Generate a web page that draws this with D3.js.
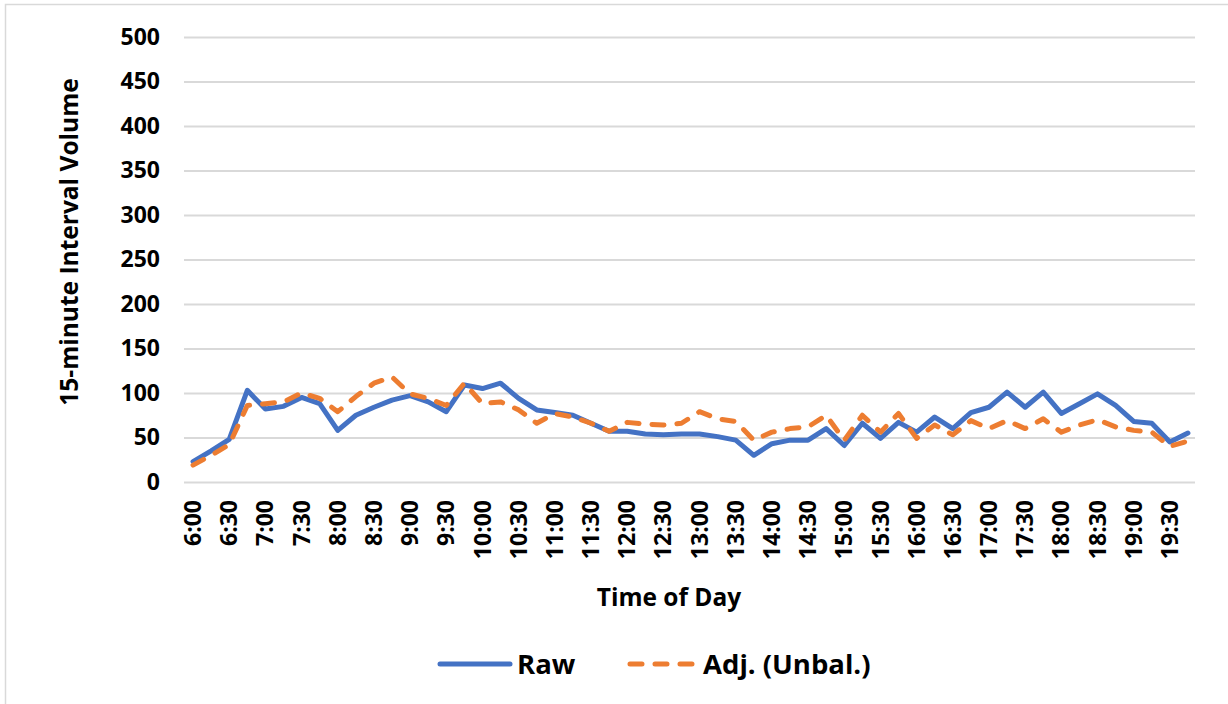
<!DOCTYPE html>
<html>
<head>
<meta charset="utf-8">
<script src="https://cdn.jsdelivr.net/npm/d3@7"></script>
<style>
  html, body { margin: 0; padding: 0; background: #fff; }
  svg { display: block; font-family: "Open Sans", "Liberation Sans", sans-serif; }
</style>
</head>
<body>
<svg id="chart" width="1228" height="704"></svg>
<script>
  // 15-minute intervals, 6:00 through 19:45.
  var times = [
    "6:00", "6:15", "6:30", "6:45", "7:00", "7:15", "7:30", "7:45",
    "8:00", "8:15", "8:30", "8:45", "9:00", "9:15", "9:30", "9:45",
    "10:00", "10:15", "10:30", "10:45", "11:00", "11:15", "11:30", "11:45",
    "12:00", "12:15", "12:30", "12:45", "13:00", "13:15", "13:30", "13:45",
    "14:00", "14:15", "14:30", "14:45", "15:00", "15:15", "15:30", "15:45",
    "16:00", "16:15", "16:30", "16:45", "17:00", "17:15", "17:30", "17:45",
    "18:00", "18:15", "18:30", "18:45", "19:00", "19:15", "19:30", "19:45"
  ];

  var rawValues = [
    23, 35, 48, 103, 82, 85, 95, 88,
    58, 75, 84, 92, 97, 90, 79, 109,
    105, 111, 94, 81, 78, 75, 66, 57,
    57, 54, 53, 54, 54, 51, 47, 30,
    43, 47, 47, 60, 41, 66, 49, 67,
    56, 73, 60, 78, 84, 101, 84, 101,
    77, 88, 99, 86, 68, 66, 45, 55
  ];

  var adjValues = [
    19, 30, 42, 86, 88, 90, 100, 94,
    79, 96, 111, 118, 99, 94, 86, 111,
    88, 90, 81, 66, 77, 73, 66, 57,
    67, 65, 64, 66, 79, 71, 68, 47,
    56, 60, 62, 75, 47, 75, 56, 77,
    49, 64, 53, 69, 60, 69, 60, 71,
    56, 64, 70, 62, 58, 56, 40, 46
  ];

  var yTicks = [0, 50, 100, 150, 200, 250, 300, 350, 400, 450, 500];

  var series = [
    { name: "Raw", values: rawValues, color: "#4472C4", dash: null },
    { name: "Adj. (Unbal.)", values: adjValues, color: "#ED7D31", dash: "12 13" }
  ];

  var svg = d3.select("#chart");
  var W = 1228, H = 704;
  var plot = { left: 184, right: 1197, top: 37, bottom: 482 };

  // Chart area border (only top/left edges are in frame).
  svg.append("rect")
    .attr("x", 5.5).attr("y", 4.5)
    .attr("width", W + 10).attr("height", H + 10)
    .attr("fill", "#fff")
    .attr("stroke", "#d9d9d9")
    .attr("stroke-width", 1.5);

  var x = d3.scaleBand().domain(times).range([plot.left, plot.right]);
  var y = d3.scaleLinear().domain([0, 500]).range([plot.bottom, plot.top]);
  function cx(t) { return x(t) + x.bandwidth() / 2; }

  // Gridlines + y tick labels.
  var yAxis = d3.axisLeft(y)
    .tickValues(yTicks)
    .tickSize(-(plot.right - plot.left - 2))
    .tickPadding(24);
  var gy = svg.append("g")
    .attr("transform", "translate(" + (plot.left) + ",0)")
    .call(yAxis);
  gy.select(".domain").remove();
  gy.selectAll(".tick line").attr("stroke", "#d9d9d9").attr("stroke-width", 2);
  gy.selectAll(".tick text")
    .attr("fill", "#000")
    .attr("font-size", "23px")
    .attr("font-weight", 700)
    .attr("font-family", "'Open Sans', sans-serif");

  // X axis labels every 30 minutes, rotated.
  var xAxis = d3.axisBottom(x)
    .tickValues(times.filter(function (t, i) { return i % 2 === 0; }))
    .tickSize(0)
    .tickPadding(0);
  var gx = svg.append("g")
    .attr("transform", "translate(0," + plot.bottom + ")")
    .call(xAxis);
  gx.select(".domain").remove();
  gx.selectAll(".tick text")
    .attr("transform", "rotate(-90)")
    .attr("text-anchor", "end")
    .attr("x", -18)
    .attr("y", 0)
    .attr("dy", "0.35em")
    .attr("fill", "#000")
    .attr("font-size", "23px")
    .attr("font-weight", 700)
    .attr("font-family", "'Open Sans', sans-serif");

  // Lines.
  var line = d3.line()
    .x(function (d) { return cx(d.t); })
    .y(function (d) { return y(d.v); });

  series.forEach(function (s) {
    var pts = s.values.map(function (v, i) { return { t: times[i], v: v }; });
    svg.append("path")
      .datum(pts)
      .attr("d", line)
      .attr("fill", "none")
      .attr("stroke", s.color)
      .attr("stroke-width", 5)
      .attr("stroke-linejoin", "round")
      .attr("stroke-linecap", "round")
      .attr("stroke-dasharray", s.dash);
  });

  // Axis titles.
  svg.append("text")
    .attr("x", 669).attr("y", 606)
    .attr("text-anchor", "middle")
    .attr("font-size", "24.5px")
    .attr("font-weight", 700)
    .text("Time of Day");

  svg.append("text")
    .attr("transform", "translate(78,242) rotate(-90)")
    .attr("text-anchor", "middle")
    .attr("font-size", "24.5px")
    .attr("font-weight", 700)
    .text("15-minute Interval Volume");

  // Legend.
  var legendItems = [
    { s: series[0], x1: 440, x2: 510, tx: 517 },
    { s: series[1], x1: 630, x2: 696, tx: 703 }
  ];
  var legendY = 664;
  legendItems.forEach(function (it) {
    svg.append("line")
      .attr("x1", it.x1).attr("x2", it.x2)
      .attr("y1", legendY).attr("y2", legendY)
      .attr("stroke", it.s.color)
      .attr("stroke-width", 5)
      .attr("stroke-linecap", "round")
      .attr("stroke-dasharray", it.s.dash);
    svg.append("text")
      .attr("x", it.tx).attr("y", legendY)
      .attr("dy", "0.35em")
      .attr("font-size", "27.5px")
      .attr("font-weight", 700)
      .text(it.s.name);
  });
</script>
</body>
</html>
